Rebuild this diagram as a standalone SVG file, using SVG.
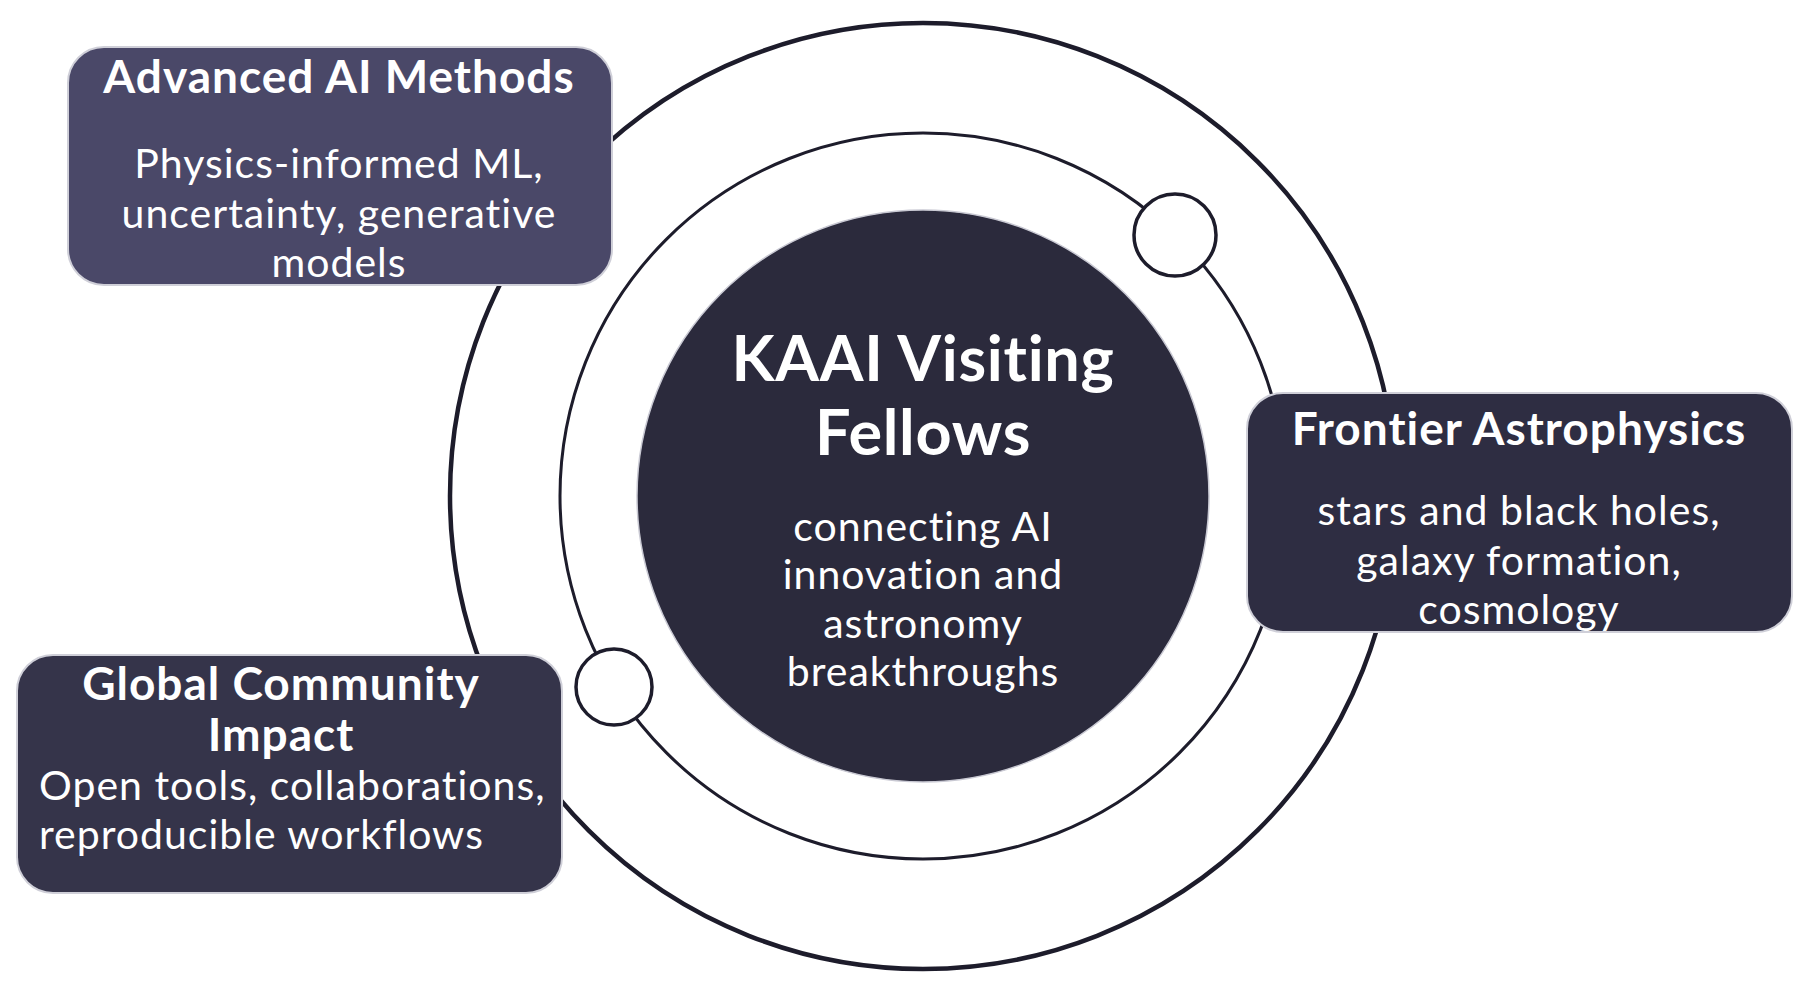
<svg xmlns="http://www.w3.org/2000/svg" width="1814" height="1000" viewBox="0 0 1814 1000">
<style>
.ring{fill:none;stroke:#1d1c2b}
.dot{fill:#ffffff;stroke:#1d1c2b;stroke-width:3.5}
.box{stroke:#cfcfd8;stroke-width:2}
.t{font-family:Lato,"Open Sans",sans-serif;fill:#ffffff;text-anchor:middle}
.h{font-weight:700;font-size:46px;letter-spacing:1px}
.b{font-weight:400;font-size:41px;letter-spacing:1px}
.k{font-weight:700;font-size:63px;letter-spacing:0.7px}
</style>
<rect width="1814" height="1000" fill="#ffffff"/>
<g id="connectors">
<circle class="ring" cx="923" cy="496" r="473" stroke-width="4.5"/>
<circle class="ring" cx="923" cy="496" r="363" stroke-width="3"/>
</g>
<g id="center">
<circle cx="923" cy="496" r="286" fill="#2b2a3c" stroke="#c9c9d3" stroke-width="1.5"/>
<text class="t k" x="923" y="381">KAAI Visiting</text>
<text class="t k" x="923" y="455">Fellows</text>
<text class="t b" x="923" y="541">connecting AI</text>
<text class="t b" x="923" y="589">innovation and</text>
<text class="t b" x="923" y="638">astronomy</text>
<text class="t b" x="923" y="686">breakthroughs</text>
</g>
<g id="dot1"><circle class="dot" cx="1175" cy="235" r="41"/></g>
<g id="dot2"><circle class="dot" cx="614" cy="687" r="38"/></g>
<g id="advanced-ai">
<rect class="box" x="68" y="47" width="544" height="238" rx="36" fill="#4a4868"/>
<text class="t h" x="339" y="93">Advanced AI Methods</text>
<text class="t b" x="339" y="178">Physics-informed ML,</text>
<text class="t b" x="339" y="228">uncertainty, generative</text>
<text class="t b" x="339" y="277">models</text>
</g>
<g id="frontier">
<rect class="box" x="1247" y="393" width="545" height="239" rx="36" fill="#2e2d42"/>
<text class="t h" x="1519" y="445">Frontier Astrophysics</text>
<text class="t b" x="1519" y="525">stars and black holes,</text>
<text class="t b" x="1519" y="575">galaxy formation,</text>
<text class="t b" x="1519" y="624">cosmology</text>
</g>
<g id="global">
<rect class="box" x="17" y="655" width="545" height="238" rx="36" fill="#35344a"/>
<text class="t h" x="281" y="700">Global Community</text>
<text class="t h" x="281" y="751">Impact</text>
<text class="t b" x="39" y="800" style="text-anchor:start">Open tools, collaborations,</text>
<text class="t b" x="39" y="849" style="text-anchor:start">reproducible workflows</text>
</g>
</svg>
